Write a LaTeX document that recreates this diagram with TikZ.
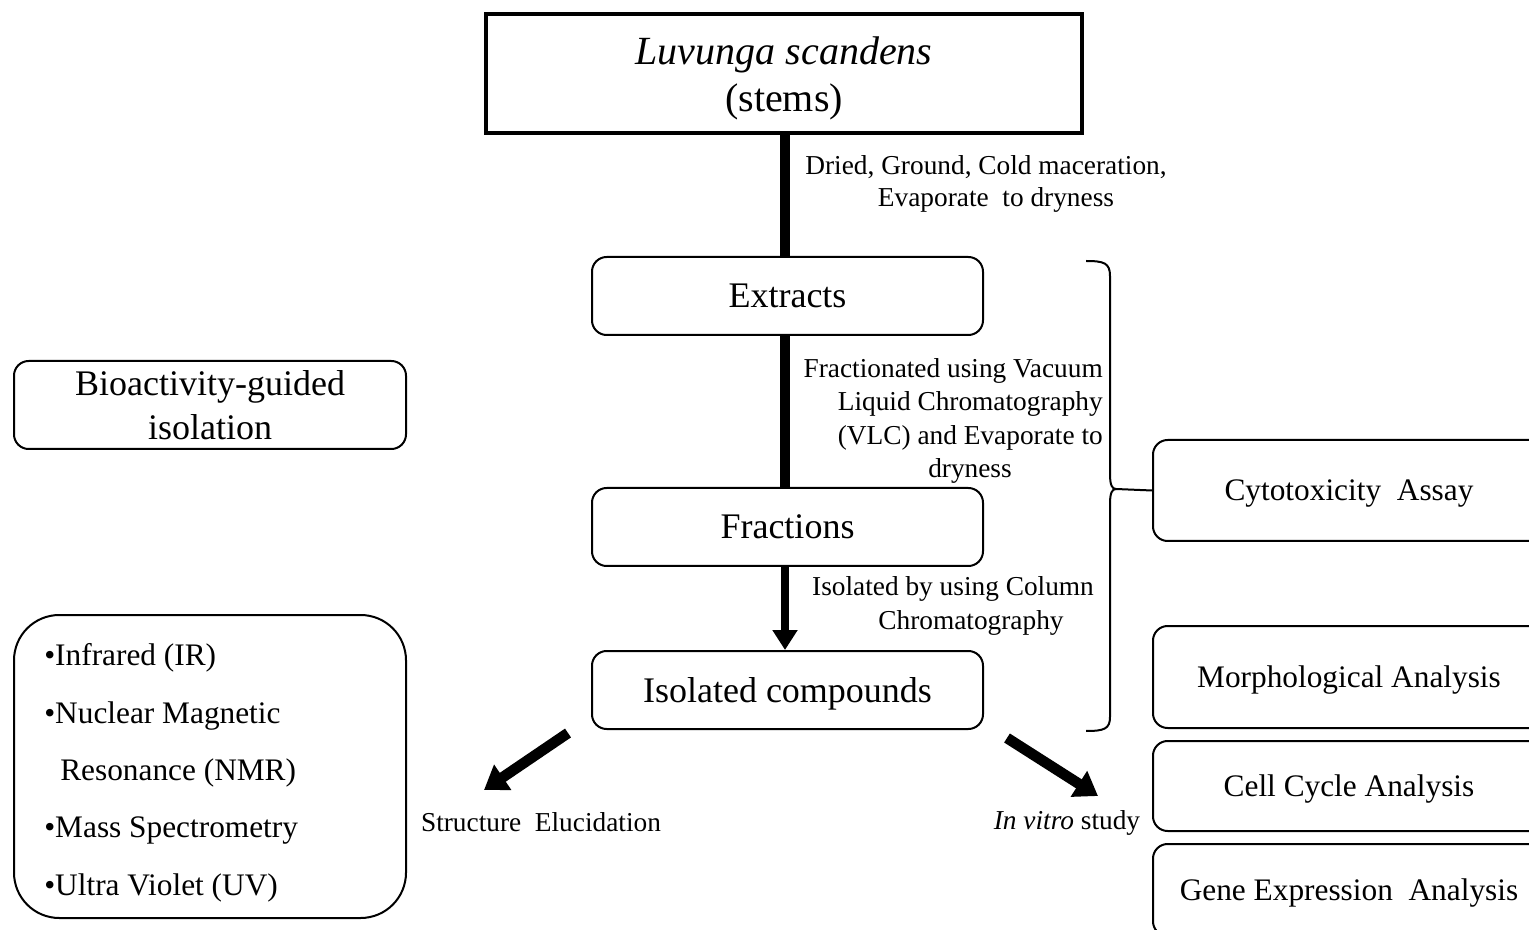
\documentclass[tikz,border=0pt]{standalone}
\usepackage{fontspec}
\setmainfont{Liberation Serif}
\usetikzlibrary{arrows.meta}
\tikzset{
  box/.style={draw, line width=1.5pt, rounded corners=11pt, inner sep=0pt, align=center, text depth=0pt},
  bigtxt/.style={font=\fontsize{27}{34}\selectfont},
  midtxt/.style={font=\fontsize{23.5}{28}\selectfont},
  lbl/.style={font=\fontsize{20.5}{24}\selectfont, inner sep=0pt},
  shaft/.style={line width=7.5pt},
  fatarrow/.style={line width=6pt, -{Triangle[width=18pt,length=15pt]}},
  diagarrow/.style={line width=8pt, -{Triangle[width=22pt,length=17pt]}}
}
\begin{document}
\begin{tikzpicture}[x=0.75pt,y=-0.75pt]
\useasboundingbox (0,0) rectangle (1529,930);
\clip (0,0) rectangle (1529,930);
% main column
\node[draw, line width=3pt, minimum width=447pt, minimum height=89.25pt, inner sep=0pt, align=center, text depth=0pt, font=\fontsize{30}{35}\selectfont] (title) at (784,74) {\textit{Luvunga scandens}\\(stems)};
\node[box, bigtxt, minimum width=293.25pt, minimum height=58.5pt] (extracts) at (787.5,296) {Extracts};
\node[box, bigtxt, minimum width=293.25pt, minimum height=58.5pt] (fractions) at (787.5,527) {Fractions};
\node[box, bigtxt, minimum width=293.25pt, minimum height=58.5pt] (isolated) at (787.5,690) {Isolated compounds};
\draw[shaft] (title.south -| 785,0) -- (extracts.north -| 785,0);
\draw[shaft] (extracts.south -| 785,0) -- (fractions.north -| 785,0);
\draw[fatarrow] (fractions.south -| 785,0) -- (isolated.north -| 785,0);
% labels
\node[lbl] (l1a) at (986,167) {Dried, Ground, Cold maceration,};
\node[lbl] (l1b) at (996,200) {Evaporate \ to dryness};
\node[lbl, anchor=east] (l2a) at (1103,371) {Fractionated using Vacuum};
\node[lbl, anchor=east] (l2b) at (1103,404) {Liquid Chromatography};
\node[lbl, anchor=east] (l2c) at (1103,438) {(VLC) and Evaporate to};
\node[lbl] (l2d) at (970,471) {dryness};
\node[lbl] (l3a) at (953,589) {Isolated by using Column};
\node[lbl] (l3b) at (971,623) {Chromatography};
% left boxes
\node[box, bigtxt, minimum width=294pt, minimum height=66pt] (bio) at (210,405) {Bioactivity-guided\\[-1pt]isolation};
\node[box, rounded corners=34pt, minimum width=294pt, minimum height=227.25pt] (tech) at (210,766.5) {};
\node[midtxt, anchor=west, inner sep=0pt] (t1) at (44,658) {•Infrared (IR)};
\node[midtxt, anchor=west, inner sep=0pt] (t2) at (44,716) {•Nuclear Magnetic};
\node[midtxt, anchor=west, inner sep=0pt] (t3) at (60,773) {Resonance (NMR)};
\node[midtxt, anchor=west, inner sep=0pt] (t4) at (44,831) {•Mass Spectrometry};
\node[midtxt, anchor=west, inner sep=0pt] (t5) at (44,888) {•Ultra Violet (UV)};
% right boxes
\node[box, midtxt, minimum width=294pt, minimum height=75.75pt] (cyto) at (1349,490.5) {Cytotoxicity \ Assay};
\node[box, midtxt, minimum width=294pt, minimum height=76.5pt] (morph) at (1349,677) {Morphological Analysis};
\node[box, midtxt, minimum width=294pt, minimum height=67.5pt] (cell) at (1349,786) {Cell Cycle Analysis};
\node[box, midtxt, minimum width=294pt, minimum height=69pt] (gene) at (1349,890) {Gene Expression \ Analysis};
% brace
\coordinate (btip) at (1116,489);
\draw[line width=1.5pt] (1086,261) .. controls (1104,261) and (1110,263) .. (1110,276) -- (1110,474) .. controls (1110,485) and (1112,489) .. (btip) .. controls (1112,489) and (1110,493) .. (1110,504) -- (1110,717) .. controls (1110,729) and (1104,731) .. (1086,731);
\draw[line width=1.5pt] (btip) -- (cyto.west);
% diagonal arrows
\coordinate (la0) at (568,733);
\coordinate (la1) at (484,790);
\coordinate (ra0) at (1007,738);
\coordinate (ra1) at (1098,796);
\draw[diagarrow] (la0) -- (la1);
\draw[diagarrow] (ra0) -- (ra1);
\node[lbl] (se) at (541,822) {Structure \ Elucidation};
\node[lbl] (iv) at (1067,823) {\textit{In vitro} study};
\end{tikzpicture}
\end{document}
